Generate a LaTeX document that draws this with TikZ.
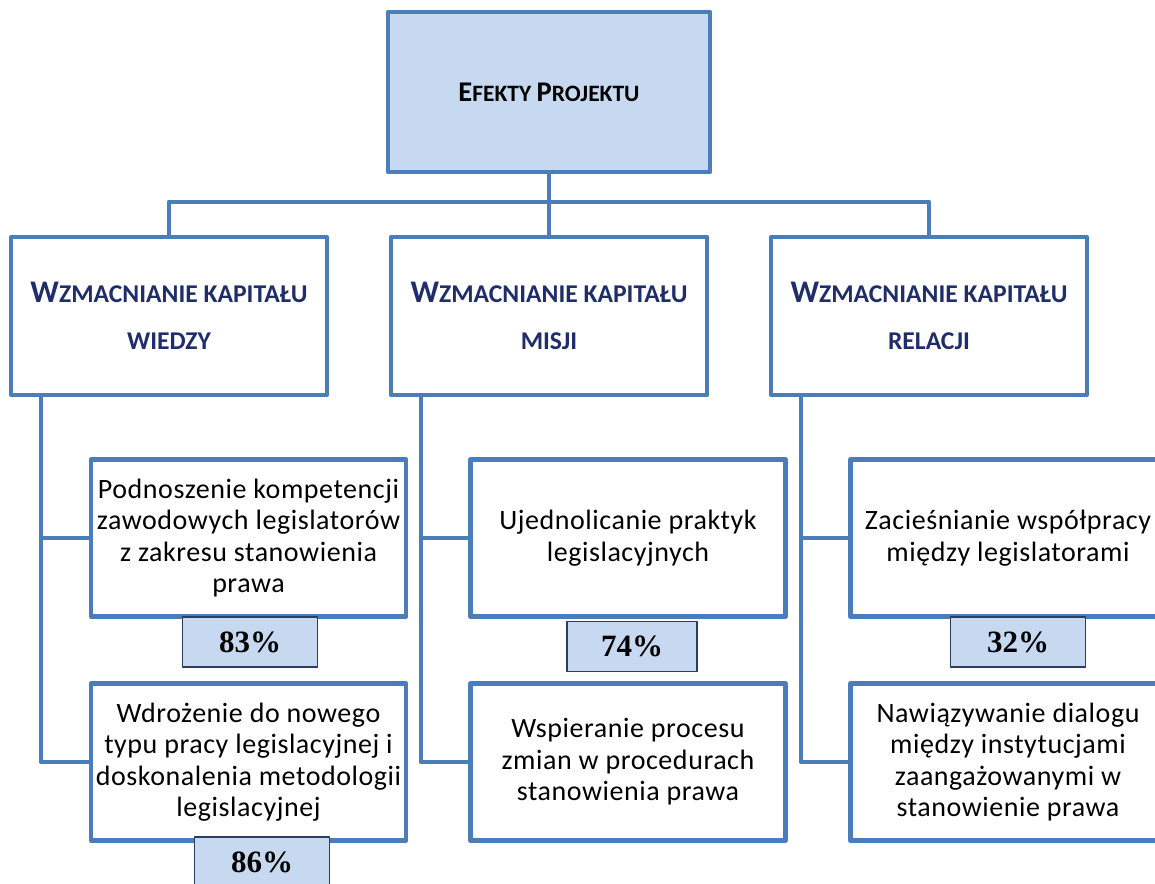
\documentclass[tikz,border=0pt]{standalone}
\usepackage{fontspec}
\setmainfont{Carlito}
\newfontfamily\pctfont{Liberation Serif}
\usepackage{xcolor}

\definecolor{boxblue}{HTML}{4A7EBB}
\definecolor{lightblue}{HTML}{C6D9F1}
\definecolor{navy}{HTML}{1F2D6B}
\definecolor{pctframe}{HTML}{2B3F5C}

\newcommand{\capW}{{\fontsize{31.5}{47}\selectfont W}}

\begin{document}
\begin{tikzpicture}[x=1pt, y=-1pt, line join=round,
    main/.style={draw=boxblue, line width=4.5pt, fill=lightblue, minimum width=322pt, minimum height=160pt, font=\bfseries\fontsize{23.5}{23.5}\selectfont},
    cat/.style={draw=boxblue, line width=4.5pt, fill=white, minimum width=316pt, minimum height=158pt, align=center, text=navy, font=\bfseries\fontsize{25.6}{47}\selectfont},
    sub/.style={draw=boxblue, line width=4.5pt, fill=white, minimum width=315pt, minimum height=157pt, align=center, font=\fontsize{28}{31.5}\selectfont\addfontfeature{LetterSpace=2}},
    pct/.style={draw=pctframe, line width=1.2pt, fill=lightblue, minimum width=135pt, minimum height=50pt, font=\pctfont\bfseries\fontsize{31}{31}\selectfont},
    link/.style={draw=boxblue, line width=4.5pt}]
        \useasboundingbox (0,0) rectangle (1155,883);
        \clip (0,0) rectangle (1155,883);

        % Nodes
        \node[main] (top) at (549,92) {{\fontsize{28.5}{28.5}\selectfont E}FEKTY {\fontsize{28.5}{28.5}\selectfont P}ROJEKTU};

        \node[cat] (wiedza) at (169,316) {\capW ZMACNIANIE KAPITAŁU\\WIEDZY};
        \node[cat] (misja) at (549,316) {\capW ZMACNIANIE KAPITAŁU\\MISJI};
        \node[cat] (relacje) at (929,316) {\capW ZMACNIANIE KAPITAŁU\\RELACJI};

        \node[sub] (podnoszenie) at (248.5,538) {Podnoszenie kompetencji\\zawodowych legislatorów\\z zakresu stanowienia\\prawa};
        \node[sub] (wdrozenie) at (248.5,762) {Wdrożenie do nowego\\typu pracy legislacyjnej i\\doskonalenia metodologii\\legislacyjnej};
        \node[sub] (ujednolicanie) at (628,538) {Ujednolicanie praktyk\\legislacyjnych};
        \node[sub] (wspieranie) at (628,762) {Wspieranie procesu\\zmian w procedurach\\stanowienia prawa};
        \node[sub] (zaciesnianie) at (1008,538) {Zacieśnianie współpracy\\między legislatorami};
        \node[sub] (nawiazywanie) at (1008,762) {Nawiązywanie dialogu\\między instytucjami\\zaangażowanymi w\\stanowienie prawa};

        \node[pct] (p83) at (250,642) {83\%};
        \node[pct, minimum width=130pt] (p74) at (632,646.5) {74\%};
        \node[pct] (p32) at (1018,642) {32\%};
        \node[pct] (p86) at (262,862) {86\%};

        % Connectors
        \draw[link] (top) -- (misja);
        \draw[link] (wiedza.north) -- ++(0,-33) -| (relacje.north);
        \draw[link] ([xshift=32pt]wiedza.south west) |- (podnoszenie.west);
        \draw[link] ([xshift=32pt]wiedza.south west) |- (wdrozenie.west);
        \draw[link] ([xshift=32pt]misja.south west) |- (ujednolicanie.west);
        \draw[link] ([xshift=32pt]misja.south west) |- (wspieranie.west);
        \draw[link] ([xshift=32pt]relacje.south west) |- (zaciesnianie.west);
        \draw[link] ([xshift=32pt]relacje.south west) |- (nawiazywanie.west);
\end{tikzpicture}
\end{document}
